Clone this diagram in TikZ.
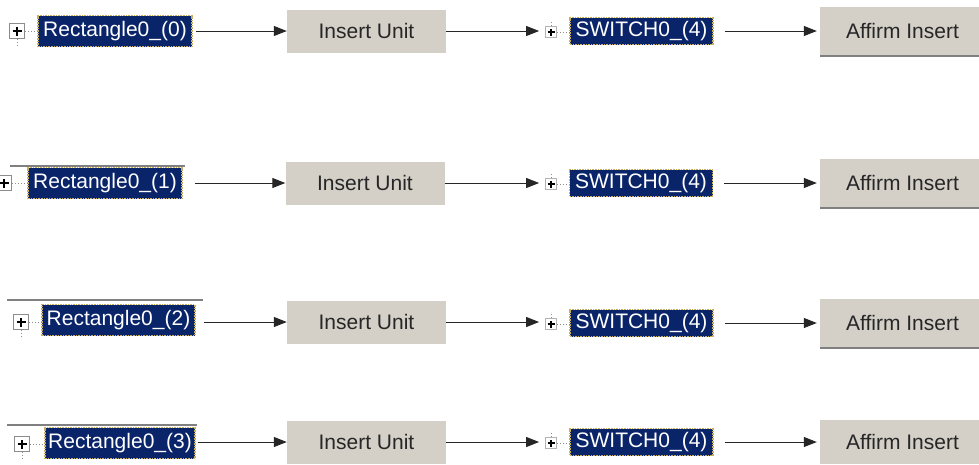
\documentclass[tikz,border=0pt]{standalone}
\usepackage{fontspec}
\setmainfont{Liberation Sans}
\usetikzlibrary{arrows.meta}
\definecolor{navy}{HTML}{0A246A}
\definecolor{btngray}{HTML}{D4D0C8}
\definecolor{focus}{HTML}{C8B060}
\definecolor{sepgray}{HTML}{808080}
\tikzset{
  txt/.style={font=\fontsize{21}{25}\selectfont},
  sel/.style={txt, fill=navy, text=white, draw=focus, densely dotted, line width=1.6pt, inner sep=0pt, minimum height=31pt},
  swsel/.style={sel, minimum height=27pt, minimum width=143pt},
  btn/.style={txt, fill=btngray, text=black!85, inner sep=0pt, minimum width=159pt, minimum height=43pt},
  affbtn/.style={btn, minimum width=165pt, minimum height=48pt},
  shadeline/.style={draw=sepgray, line width=2pt},
  xbox/.style={draw=black!45, fill=white, line width=1pt, minimum size=15pt, inner sep=0pt,
    path picture={\draw[black, line width=1.6pt] ([xshift=-4.5pt]path picture bounding box.center) -- ([xshift=4.5pt]path picture bounding box.center);
                  \draw[black, line width=1.6pt] ([yshift=-4.5pt]path picture bounding box.center) -- ([yshift=4.5pt]path picture bounding box.center);}},
  sxbox/.style={draw=black!30, fill=white, line width=0.8pt, minimum size=11pt, inner sep=0pt,
    path picture={\draw[black, line width=1.3pt] ([xshift=-3.5pt]path picture bounding box.center) -- ([xshift=3.5pt]path picture bounding box.center);
                  \draw[black, line width=1.3pt] ([yshift=-3.5pt]path picture bounding box.center) -- ([yshift=3.5pt]path picture bounding box.center);}},
  treedot/.style={draw=black!45, dotted, line width=1pt},
  sep/.style={draw=sepgray, line width=2.2pt},
  arr/.style={draw=black!85, line width=1pt, -{Triangle[length=13pt,width=10pt]}},
}
\begin{document}
\begin{tikzpicture}[x=1pt,y=-1pt]
\path[use as bounding box, clip] (0,0) rectangle (979,464);
\fill[white] (0,0) rectangle (979,464);

% separators
\draw[sep] (10,166) -- (185,166);
\draw[sep] (7,300) -- (203,300);
\draw[sep] (7,425) -- (197,425);

% ---------- Row 1 ----------
\node[xbox] (p1) at (17,31) {};
\node[sel, minimum width=154pt] (r1) at (115,31) {Rectangle0\_(0)};
\node[btn] (i1) at (366.5,31) {Insert Unit};
\node[sxbox] (q1) at (551,32) {};
\node[swsel] (s1) at (641.5,31) {SWITCH0\_(4)};
\node[affbtn] (a1) at (902.5,31) {Affirm Insert};
\draw[treedot] (p1.east) -- (r1.west);
\draw[treedot] (p1.south) -- ++(0,8);
\draw[treedot] (q1.east) -- (q1.east -| s1.west);
\draw[treedot] (q1.north) -- ++(0,-6);
\draw[shadeline] ([yshift=-1pt]a1.south west) -- ([yshift=-1pt]a1.south east);
\draw[arr, shorten <=3pt] (r1.east) -- (i1.west);
\draw[arr, shorten >=6pt] (i1.east) -- (i1.east -| q1.west);
\draw[arr, shorten <=11pt, shorten >=3pt] (s1.east) -- (a1.west);

% ---------- Row 2 ----------
\node[xbox] (p2) at (4,183) {};
\node[sel, minimum width=154pt] (r2) at (105,183) {Rectangle0\_(1)};
\node[btn] (i2) at (365,183) {Insert Unit};
\node[sxbox] (q2) at (551,184) {};
\node[swsel] (s2) at (641,183) {SWITCH0\_(4)};
\node[affbtn] (a2) at (902.5,183) {Affirm Insert};
\draw[treedot] (p2.east) -- (r2.west);
\draw[treedot] (q2.east) -- (q2.east -| s2.west);
\draw[treedot] (q2.north) -- ++(0,-6);
\draw[shadeline] ([yshift=-1pt]a2.south west) -- ([yshift=-1pt]a2.south east);
\draw[arr, shorten <=12pt] (r2.east) -- (i2.west);
\draw[arr, shorten >=6pt] (i2.east) -- (i2.east -| q2.west);
\draw[arr, shorten <=11pt, shorten >=3pt] (s2.east) -- (a2.west);

% ---------- Row 3 ----------
\node[xbox] (p3) at (21,322) {};
\node[sel, minimum width=153pt] (r3) at (118.5,320) {Rectangle0\_(2)};
\node[btn] (i3) at (366.5,322) {Insert Unit};
\node[sxbox] (q3) at (551,324) {};
\node[swsel] (s3) at (641.5,323) {SWITCH0\_(4)};
\node[affbtn] (a3) at (902.5,323) {Affirm Insert};
\draw[treedot] (p3.east) -- (p3.east -| r3.west);
\draw[treedot] (p3.south) -- ++(0,8);
\draw[treedot] (q3.east) -- (q3.east -| s3.west);
\draw[treedot] (q3.north) -- ++(0,-6);
\draw[shadeline] ([yshift=-1pt]a3.south west) -- ([yshift=-1pt]a3.south east);
\draw[arr, shorten <=8pt] (i3.west -| r3.east) -- (i3.west);
\draw[arr, shorten >=6pt] (i3.east) -- (i3.east -| q3.west);
\draw[arr, shorten <=11pt, shorten >=3pt] (s3.east) -- (s3.east -| a3.west);

% ---------- Row 4 ----------
\node[xbox] (p4) at (22,444) {};
\node[sel, minimum width=150pt] (r4) at (120,443) {Rectangle0\_(3)};
\node[btn] (i4) at (366.5,442) {Insert Unit};
\node[sxbox] (q4) at (551,443) {};
\node[swsel] (s4) at (641.5,442) {SWITCH0\_(4)};
\node[affbtn, minimum height=44pt] (a4) at (902.5,442) {Affirm Insert};
\draw[treedot] (p4.east) -- (p4.east -| r4.west);
\draw[treedot] (p4.south) -- ++(0,8);
\draw[treedot] (q4.east) -- (q4.east -| s4.west);
\draw[treedot] (q4.north) -- ++(0,-6);
\draw[arr, shorten <=2pt] (i4.west -| r4.east) -- (i4.west);
\draw[arr, shorten >=6pt] (i4.east) -- (i4.east -| q4.west);
\draw[arr, shorten <=11pt, shorten >=3pt] (s4.east) -- (s4.east -| a4.west);
\end{tikzpicture}
\end{document}
